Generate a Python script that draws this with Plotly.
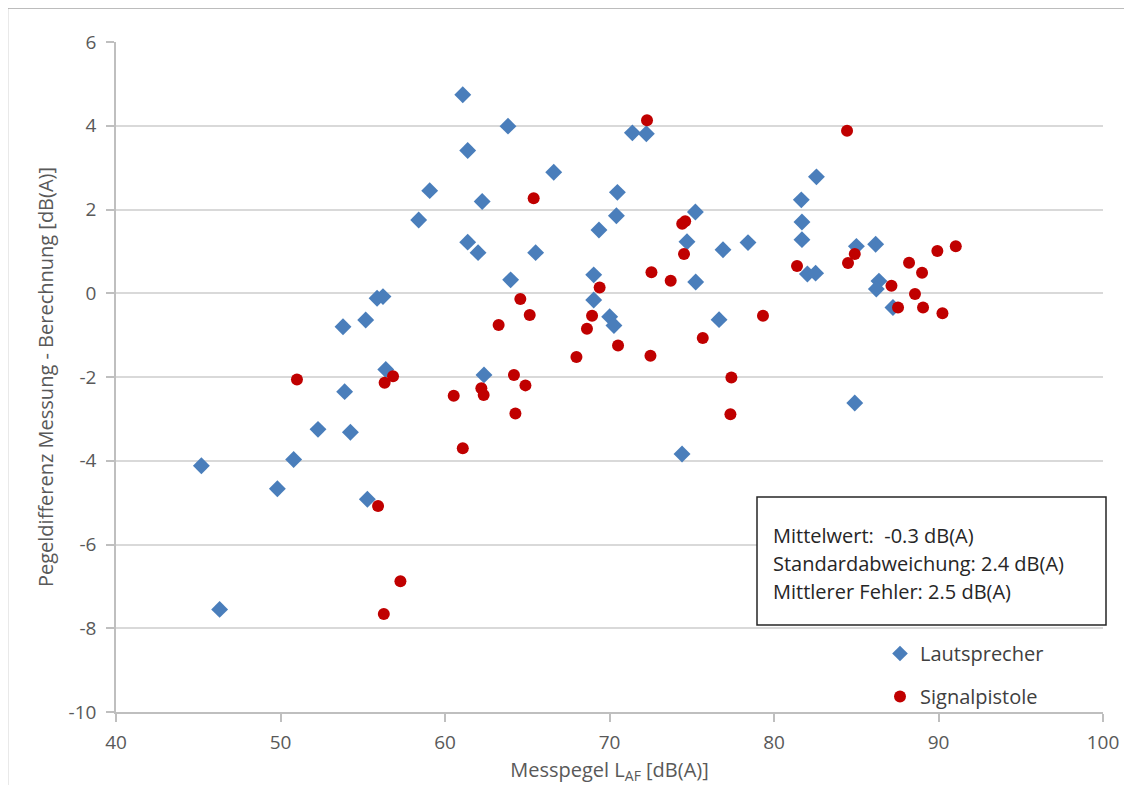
import plotly.graph_objects as go

# ---- data ----
laut_x = [45.19, 46.30, 49.81, 50.80, 52.28, 53.90, 54.25, 55.28, 56.40, 53.80,
          55.18, 55.87, 56.23, 58.40, 59.07, 61.08, 61.38, 62.26, 61.38, 62.01,
          62.37, 63.83, 63.99, 65.51, 66.61, 69.04, 69.04, 69.36, 70.01, 70.27,
          70.42, 70.48, 71.39, 72.24, 74.41, 74.71, 75.22, 75.24, 76.66, 76.90,
          78.42, 81.66, 81.70, 81.70, 82.03, 82.53, 82.58, 85.01, 84.91, 86.18,
          86.38, 86.22, 87.23]
laut_y = [-4.12, -7.55, -4.67, -3.97, -3.25, -2.35, -3.32, -4.92, -1.82, -0.80,
          -0.64, -0.12, -0.08, 1.75, 2.45, 4.74, 3.41, 2.19, 1.22, 0.97,
          -1.95, 3.99, 0.32, 0.97, 2.89, 0.44, -0.16, 1.51, -0.56, -0.77,
          1.85, 2.41, 3.83, 3.81, -3.84, 1.23, 1.94, 0.27, -0.63, 1.04,
          1.21, 2.23, 1.70, 1.28, 0.46, 0.48, 2.78, 1.12, -2.62, 1.17,
          0.29, 0.10, -0.34]

sig_x = [51.00, 55.93, 56.28, 56.33, 56.84, 57.29, 60.53, 61.08, 62.21, 62.35,
         63.26, 64.19, 64.28, 64.58, 64.89, 65.15, 65.39, 67.99, 68.63, 68.94,
         69.40, 70.52, 72.28, 72.49, 72.55, 73.72, 74.42, 74.60, 74.53, 75.67,
         77.41, 77.35, 79.33, 81.40, 84.44, 84.50, 84.91, 87.14, 87.54, 88.21,
         88.57, 89.00, 89.06, 89.93, 90.24, 91.05]
sig_y = [-2.06, -5.08, -7.66, -2.14, -1.98, -6.88, -2.45, -3.70, -2.27, -2.43,
         -0.76, -1.95, -2.87, -0.14, -2.20, -0.52, 2.27, -1.52, -0.85, -0.54,
         0.14, -1.25, 4.13, -1.49, 0.50, 0.30, 1.66, 1.72, 0.94, -1.07,
         -2.01, -2.89, -0.54, 0.65, 3.88, 0.72, 0.94, 0.18, -0.34, 0.73,
         -0.02, 0.49, -0.34, 1.01, -0.48, 1.12]

series_names = ["Lautsprecher", "Signalpistole"]
y_tickvals = [-10, -8, -6, -4, -2, 0, 2, 4, 6]
y_ticktext = ["-10", "-8", "-6", "-4", "-2", "0", "2", "4", "6"]
x_tickvals = [40, 50, 60, 70, 80, 90, 100]
x_ticktext = ["40", "50", "60", "70", "80", "90", "100"]
stats_lines = ["Mittelwert:&nbsp; -0.3 dB(A)",
               "Standardabweichung: 2.4 dB(A)",
               "Mittlerer Fehler: 2.5 dB(A)"]
x_title = "Messpegel L<sub>AF</sub> [dB(A)]"
y_title = "Pegeldifferenz Messung - Berechnung [dB(A)]"

FONT = "'Open Sans', Lato, sans-serif"
TXT = 20
OFF = 8  # page body margin
W, H = 1132 - OFF, 785 - OFF
# plot area in page pixels: x 116..1103, y 42..712
L, T = 116 - OFF, 42 - OFF
R, B = W - (1103 - OFF), H - (712 - OFF)
PW, PH = W - L - R, H - T - B


def px_x(p):
    return (p - OFF - L) / PW


def px_y(p):
    return (H - B - (p - OFF)) / PH


fig = go.Figure()
fig.add_trace(go.Scatter(
    x=laut_x, y=laut_y, mode="markers", name=series_names[0],
    legendgroup="a",
    marker=dict(symbol="diamond", size=13, color="#4a7ebb", line=dict(width=0)),
))
fig.add_trace(go.Scatter(
    x=sig_x, y=sig_y, mode="markers", name=series_names[1],
    legendgroup="b",
    marker=dict(symbol="circle", size=12, color="#c00000", line=dict(width=0)),
))

# statistics box
fig.add_shape(type="rect", xref="paper", yref="paper",
              x0=px_x(757), x1=px_x(1106), y0=px_y(625), y1=px_y(497),
              line=dict(color="#262626", width=1.5), fillcolor="white", layer="above")
for txt, yp in zip(stats_lines, [535, 563, 591]):
    fig.add_annotation(text=txt, xref="paper", yref="paper",
                       x=px_x(771), y=px_y(yp), xanchor="left", yanchor="middle",
                       showarrow=False, font=dict(family=FONT, size=TXT, color="#262626"))

# outer chart border (only top/left visible in the crop)
fig.add_shape(type="line", xref="paper", yref="paper",
              x0=px_x(7), x1=px_x(1140), y0=px_y(8), y1=px_y(8),
              line=dict(color="#a6a6a6", width=1.5))
fig.add_shape(type="line", xref="paper", yref="paper",
              x0=px_x(7.5), x1=px_x(7.5), y0=px_y(8), y1=px_y(800),
              line=dict(color="#a6a6a6", width=1.5))

fig.update_layout(
    width=W, height=H,
    margin=dict(l=L, r=R, t=T, b=B, autoexpand=False),
    paper_bgcolor="white", plot_bgcolor="white",
    font=dict(family=FONT, size=19, color="#595959"),
    showlegend=True,
    legend=dict(x=px_x(880), y=px_y(634), xanchor="left", yanchor="top",
                font=dict(family=FONT, size=TXT, color="#404040"),
                tracegroupgap=14, bgcolor="rgba(0,0,0,0)", itemsizing="constant"),
    xaxis=dict(range=[40, 100], tickvals=x_tickvals, ticktext=x_ticktext,
               showgrid=False, zeroline=False,
               showline=True, linecolor="#bfbfbf", linewidth=1.5,
               ticks="outside", ticklen=8, tickcolor="#bfbfbf", tickwidth=1.5,
               ticklabelstandoff=4,
               tickfont=dict(family=FONT, size=19, color="#595959"),
               title=dict(text=x_title, font=dict(family=FONT, size=TXT, color="#595959"),
                          standoff=10)),
    yaxis=dict(range=[-10, 6], tickvals=y_tickvals, ticktext=y_ticktext,
               showgrid=True, gridcolor="#d9d9d9",
               gridwidth=1.5, zeroline=False,
               showline=True, linecolor="#bfbfbf", linewidth=1.5,
               ticks="outside", ticklen=8, tickcolor="#bfbfbf", tickwidth=1.5,
               ticklabelstandoff=6,
               tickfont=dict(family=FONT, size=19, color="#595959"),
               title=dict(text=y_title, font=dict(family=FONT, size=TXT, color="#595959"),
                          standoff=10)),
)

fig.write_html("out.html")
